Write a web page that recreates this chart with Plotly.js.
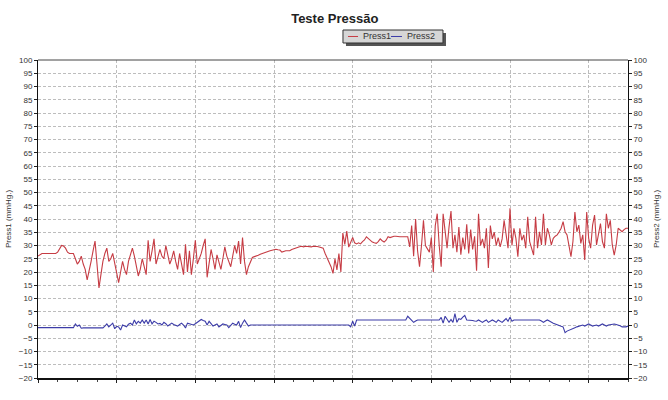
<!DOCTYPE html>
<html>
<head>
<meta charset="utf-8">
<script src="https://cdn.plot.ly/plotly-3.0.1.min.js"></script>
<style>html,body{margin:0;padding:0;background:#fff;}#chart{width:668px;height:400px;}</style>
</head>
<body>
<div id="chart"></div>
<script>
// Chart text
var chartTitle = 'Teste Pressão';
var seriesNames = ['Press1', 'Press2'];
var yLeftTitle = 'Press1 (mmHg.)';
var yRightTitle = 'Press2 (mmHg.)';

// Press1 samples (mmHg), one per sample index
var press1 = [
  26,26.5,27,27,27,27,27,27,27,27,
  27.5,29,30,29.8,29,27.5,27,27,27,25,
  23,24,26,23,21,17,20,24,28,31.7,
  23,14,19,24,27,29,24,25,27,23,
  20,16,20,24,21,19,24,27,29,26,
  22,18.5,21,25,22,19,32,24,28,32.5,
  23,26,28.5,26,25,30,26,23,25,28,
  24,21,27,23,19,30.5,20,28,19,25,
  32,23,25,27,30,32.5,18,23,28.5,25,
  21,26.5,24,21,25,29.5,26,24,22,26,
  30,27,31.7,23,33,24,19,22,24,25.5,
  25.8,26,26.3,26.7,27,27.3,27.5,27.8,28,28.2,
  28.5,28.6,28.4,28.3,27.5,27.8,28,28,28,28.5,
  28.8,29,29.3,29.5,29.7,29.5,29.7,29.6,29.7,29.5,
  29.7,29.7,29.6,29.4,29.2,29,27,25.5,24,22,
  19.5,25,20.8,27,20,34.7,30.4,35.4,29.4,31.5,
  33,31,30.6,31,30.6,31.5,32.1,33.3,32.5,31.8,
  31.3,31,30.8,31.5,32.5,31.8,31.3,32,33.3,33,
  33.3,33.5,33.5,33.3,33.3,33.3,33.3,33.3,33.3,29.5,
  37.5,26,40,28,22,30,39.5,30,28.5,27.5,
  33,20,37.5,42,30,22,42,34,29,37,
  43,29,34,27.5,37,26.5,33,28.5,38,27,
  36,28.5,33.5,20.5,42,30,32.5,29,36.5,21.5,
  37.5,32.5,35,30,33,29.5,32.5,39.5,34,29,
  44,30,36.5,32.7,25.8,36.5,32,34,29,40.8,
  31.5,29,26.4,40.8,29,35.2,30.2,42,30.2,36.5,
  34,30.2,32.7,33.5,34,35.2,36.5,39,35.2,34,
  30,25.8,31.5,42.6,35.2,37.7,30.8,34,24.5,42.6,
  32.7,29,37.7,41.5,30.2,34,38.3,31.5,29,42,
  36.5,39.5,30.2,26.4,30.2,36.5,35.8,35.2,36,36.5,
  36.5
];

// Press2 samples (mmHg), one per sample index
var press2 = [
  -1,-1,-1,-1,-1,-1,-1,-1,-1,-1,
  -1,-1,-1,-1,-1,-1,-1,-1,-1,0.4,
  -0.5,0,-1.2,-1.1,-1.1,-1.1,-1.1,-1.1,-1.1,-1.1,
  -1.1,-1.1,-1.1,-1.1,-0.4,0.4,-0.7,0,0.7,-1.4,
  -0.5,-0.7,-1.9,0,-0.3,-0.7,0.3,0.7,0,1.9,
  0.4,1.4,0.7,1.9,0.7,1.9,0.4,2.1,0.4,1.4,
  1,0.4,0.6,0,1,0.5,-0.4,0.3,0.7,0.2,
  0,-0.4,0.2,0.7,0,-1.1,0.7,0.5,0.3,0,
  0.5,1,1.5,2.1,1.7,1.4,0,1.4,0.5,-0.4,
  0,0.4,-0.7,0,0.4,0.2,0,-1,0,0.7,
  0.3,0,1.4,-1,0.7,1.9,0.7,-0.4,0,0,
  0,0,0,0,0,0,0,0,0,0,
  0,0,0,0,0,0,0,0,0,0,
  0,0,0,0,0,0,0,0,0,0,
  0,0,0,0,0,0,0,0,0,0,
  0,0,0,0,0,0,0,0,0,-0.7,
  1.4,-0.4,1.9,1.9,1.9,1.9,1.9,1.9,1.9,1.9,
  1.9,1.9,1.9,1.9,1.9,1.9,1.9,1.9,1.9,1.9,
  1.9,1.9,1.9,1.9,1.9,1.9,1.9,1.9,3.3,2.5,
  1.9,1,1.5,1.9,1.9,1.9,1.9,1.9,1.9,1.9,
  1.9,1.9,1.9,1.9,1.9,2.9,0.7,3.3,2,1,
  2.1,1,4.3,1,2.4,2.1,3,3.6,1.9,1.9,
  1.9,1.7,1.5,1.4,1.9,1.5,1,1.5,1.9,1,
  1.5,1.9,1.5,1,1.9,1.5,1,1.7,2.4,1.4,
  2.9,1.4,1.9,1.9,1.9,1.9,1.9,1.9,1.9,1.9,
  1.9,1.9,1.9,1.9,1.9,1.9,1.5,1,1.5,1.9,
  1.5,1,0.7,0.4,0,-0.3,-0.5,-0.7,-2.9,-2.3,
  -1.9,-1.6,-1.4,-1,-0.7,-0.5,-0.4,0,-0.4,0,
  0.4,0,-0.4,-0.2,0,-0.4,0,0.4,0,-0.4,
  0,0.2,0.4,0.4,0.2,0,-0.3,-0.7,-0.7,-0.7,
  -0.4
];

var sampleIdx = press1.map(function (_, i) { return i; });

var redColor = '#c63c44';
var blueColor = '#3c3ca8';
var txt = '#333333';
var fontFam = 'Liberation Sans, Arial, sans-serif';

var traces = [
  { x: sampleIdx, y: press1, name: seriesNames[0], type: 'scatter', mode: 'lines',
    line: { color: redColor, width: 1.1 }, yaxis: 'y' },
  { x: sampleIdx, y: press2, name: seriesNames[1], type: 'scatter', mode: 'lines',
    line: { color: blueColor, width: 1.1 }, yaxis: 'y2' }
];

var gridCol = '#bdbdbd';
var yCommon = {
  range: [-20, 100], dtick: 5, tick0: 0, ticks: 'outside', ticklen: 3, tickcolor: '#222',
  tickfont: { size: 8, color: txt, family: fontFam },
  showline: true, linecolor: '#111', linewidth: 1, zeroline: false, fixedrange: true
};

var layout = {
  width: 668, height: 400,
  margin: { l: 38, r: 40, t: 60, b: 22 },
  paper_bgcolor: '#ffffff', plot_bgcolor: '#ffffff',
  showlegend: false,
  font: { family: fontFam, color: txt, size: 8 },
  title: { text: '<b>' + chartTitle + '</b>', x: 0.503, xref: 'paper', y: 0.955, yref: 'container',
           xanchor: 'center', yanchor: 'middle', font: { size: 13, color: '#222', family: fontFam } },
  xaxis: {
    range: [0, 300], dtick: 40, tick0: 0, showticklabels: false,
    ticks: 'outside', ticklen: 3, tickcolor: '#222',
    showgrid: true, gridcolor: gridCol, griddash: '3px,2px', gridwidth: 1,
    minor: { dtick: 10, ticks: 'outside', ticklen: 2, tickcolor: '#444', showgrid: false },
    showline: true, linecolor: '#111', linewidth: 2, zeroline: false, fixedrange: true
  },
  yaxis: Object.assign({}, yCommon, {
    side: 'left', showgrid: true, gridcolor: gridCol, griddash: '3px,2px', gridwidth: 1,
    title: { text: yLeftTitle, font: { size: 8, color: txt, family: fontFam }, standoff: 6 }
  }),
  yaxis2: Object.assign({}, yCommon, {
    side: 'right', overlaying: 'y', showgrid: false,
    title: { text: yRightTitle, font: { size: 8, color: txt, family: fontFam }, standoff: 6 }
  }),
  shapes: [
    // top frame line
    { type: 'line', xref: 'paper', yref: 'paper', x0: 0, x1: 1, y0: 1, y1: 1,
      line: { color: '#444', width: 1 } },
    // legend shadow and box
    { type: 'rect', xref: 'paper', yref: 'paper', x0: 0.522, x1: 0.6915, y0: 1.044, y1: 1.0849,
      fillcolor: '#555555', line: { width: 0 } },
    { type: 'rect', xref: 'paper', yref: 'paper', x0: 0.5169, x1: 0.6864, y0: 1.0535, y1: 1.0943,
      fillcolor: '#d6d6d6', line: { color: '#333', width: 1 } },
    { type: 'line', xref: 'paper', yref: 'paper', x0: 0.5254, x1: 0.5424, y0: 1.0739, y1: 1.0739,
      line: { color: redColor, width: 1 } },
    { type: 'line', xref: 'paper', yref: 'paper', x0: 0.5983, x1: 0.6169, y0: 1.0739, y1: 1.0739,
      line: { color: blueColor, width: 1 } }
  ],
  annotations: [
    { text: seriesNames[0], xref: 'paper', yref: 'paper', x: 0.5475, y: 1.0739, xanchor: 'left', yanchor: 'middle',
      showarrow: false, font: { size: 9, color: txt, family: fontFam } },
    { text: seriesNames[1], xref: 'paper', yref: 'paper', x: 0.622, y: 1.0739, xanchor: 'left', yanchor: 'middle',
      showarrow: false, font: { size: 9, color: txt, family: fontFam } }
  ]
};

Plotly.newPlot('chart', traces, layout, { staticPlot: true, displayModeBar: false });
</script>
</body>
</html>
